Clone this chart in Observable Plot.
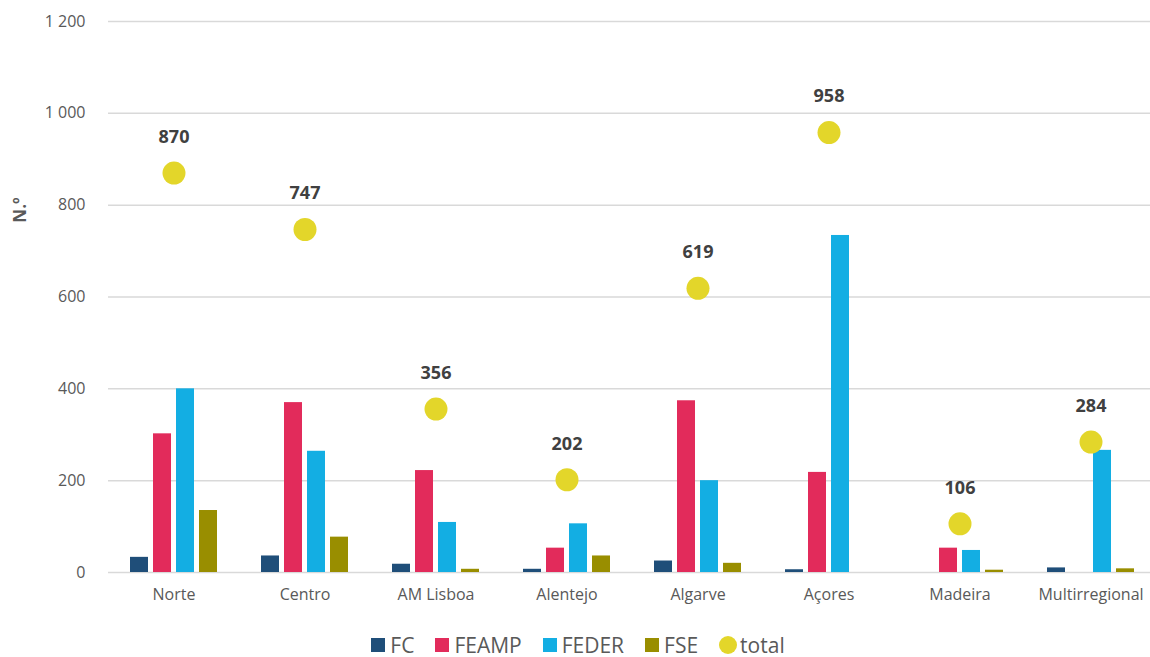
<!DOCTYPE html>
<html>
<head>
<meta charset="utf-8">
<script src="https://cdn.jsdelivr.net/npm/d3@7"></script>
<script src="https://cdn.jsdelivr.net/npm/@observablehq/plot@0.6"></script>
<style>
  html, body { margin: 0; padding: 0; background: #fff; overflow: hidden; width: 1150px; height: 657px; }
  #chart { width: 1150px; overflow: hidden; }
  #chart svg { display: block; max-width: none !important; }
  #legend { display: flex; justify-content: center; align-items: center; margin-top: 14px; height: 22px; line-height: 22px;
            font-family: "Open Sans", sans-serif; font-size: 21px; color: #595959; padding-left: 6px; }
  .item { display: flex; align-items: center; margin-right: 21px; }
  .item:last-child { margin-right: 0; }
  .sw { width: 14px; height: 14px; margin-right: 5px; }
  .dotsw { width: 18px; height: 18px; border-radius: 50%; margin-right: 3px; }
</style>
</head>
<body>
<div id="chart"></div>
<div id="legend"></div>
<script>
const regions = ["Norte", "Centro", "AM Lisboa", "Alentejo", "Algarve", "Açores", "Madeira", "Multirregional"];
const seriesNames = ["FC", "FEAMP", "FEDER", "FSE"];
const seriesColors = ["#1f4e79", "#e22b5b", "#13aee3", "#998e00"];
const FC    = [33, 36, 18, 7, 25, 6, 0, 10];
const FEAMP = [302, 370, 222, 53, 374, 218, 53, 0];
const FEDER = [400, 264, 109, 106, 200, 734, 48, 266];
const FSE   = [135, 77, 7, 36, 20, 0, 5, 8];
const total = [870, 747, 356, 202, 619, 958, 106, 284];
const totalColor = "#e3d62a";
const yTicks = [0, 200, 400, 600, 800, 1000, 1200];

const seriesValues = {FC, FEAMP, FEDER, FSE};
const rows = [];
regions.forEach((r, i) => {
  seriesNames.forEach(s => rows.push({region: r, series: s, value: seriesValues[s][i]}));
});
const totals = regions.map((r, i) => ({region: r, total: total[i]}));

const fmt = d3.formatLocale({decimal: ",", thousands: " ", grouping: [3], currency: ["", ""]}).format(",");

const plot = Plot.plot({
  width: 1158,
  height: 620,
  marginLeft: 106,
  marginRight: 0,
  marginTop: 21,
  marginBottom: 48,
  style: {fontFamily: "'Open Sans', sans-serif", fontSize: "16px", color: "#595959", background: "#fff"},
  fx: {domain: regions, padding: 0, label: null},
  x: {domain: seriesNames, paddingInner: 0.21, paddingOuter: 0.84, axis: null},
  y: {domain: [0, 1200], label: null},
  color: {domain: seriesNames, range: seriesColors},
  marks: [
    Plot.gridY(yTicks, {stroke: "#d9d9d9", strokeOpacity: 1, strokeWidth: 1.5}),
    Plot.barY(rows, {fx: "region", x: "series", y: "value", fill: "series"}),
    Plot.dot(totals, {fx: "region", y: "total", r: 11.5, fill: totalColor}),
    Plot.text(totals, {fx: "region", y: "total", text: d => String(d.total), dy: -36,
      fill: "#404040", fontWeight: "bold", fontSize: 18}),
    Plot.axisY(yTicks, {tickSize: 0, tickPadding: 23, tickFormat: fmt, label: null, fontSize: 16}),
    Plot.axisFx({anchor: "bottom", tickSize: 0, tickPadding: 16, label: null, fontSize: 16})
  ]
});
document.getElementById("chart").appendChild(plot);

d3.select(plot).append("text")
  .attr("transform", "translate(26,210) rotate(-90)")
  .attr("text-anchor", "middle")
  .attr("font-family", "'Open Sans', sans-serif")
  .attr("font-size", 17)
  .attr("font-weight", "bold")
  .attr("fill", "#595959")
  .text("N.º");

const legend = d3.select("#legend");
seriesNames.forEach((s, i) => {
  const it = legend.append("div").attr("class", "item");
  it.append("div").attr("class", "sw").style("background", seriesColors[i]);
  it.append("span").text(s);
});
const it = legend.append("div").attr("class", "item");
it.append("div").attr("class", "dotsw").style("background", totalColor);
it.append("span").text("total");
</script>
</body>
</html>
